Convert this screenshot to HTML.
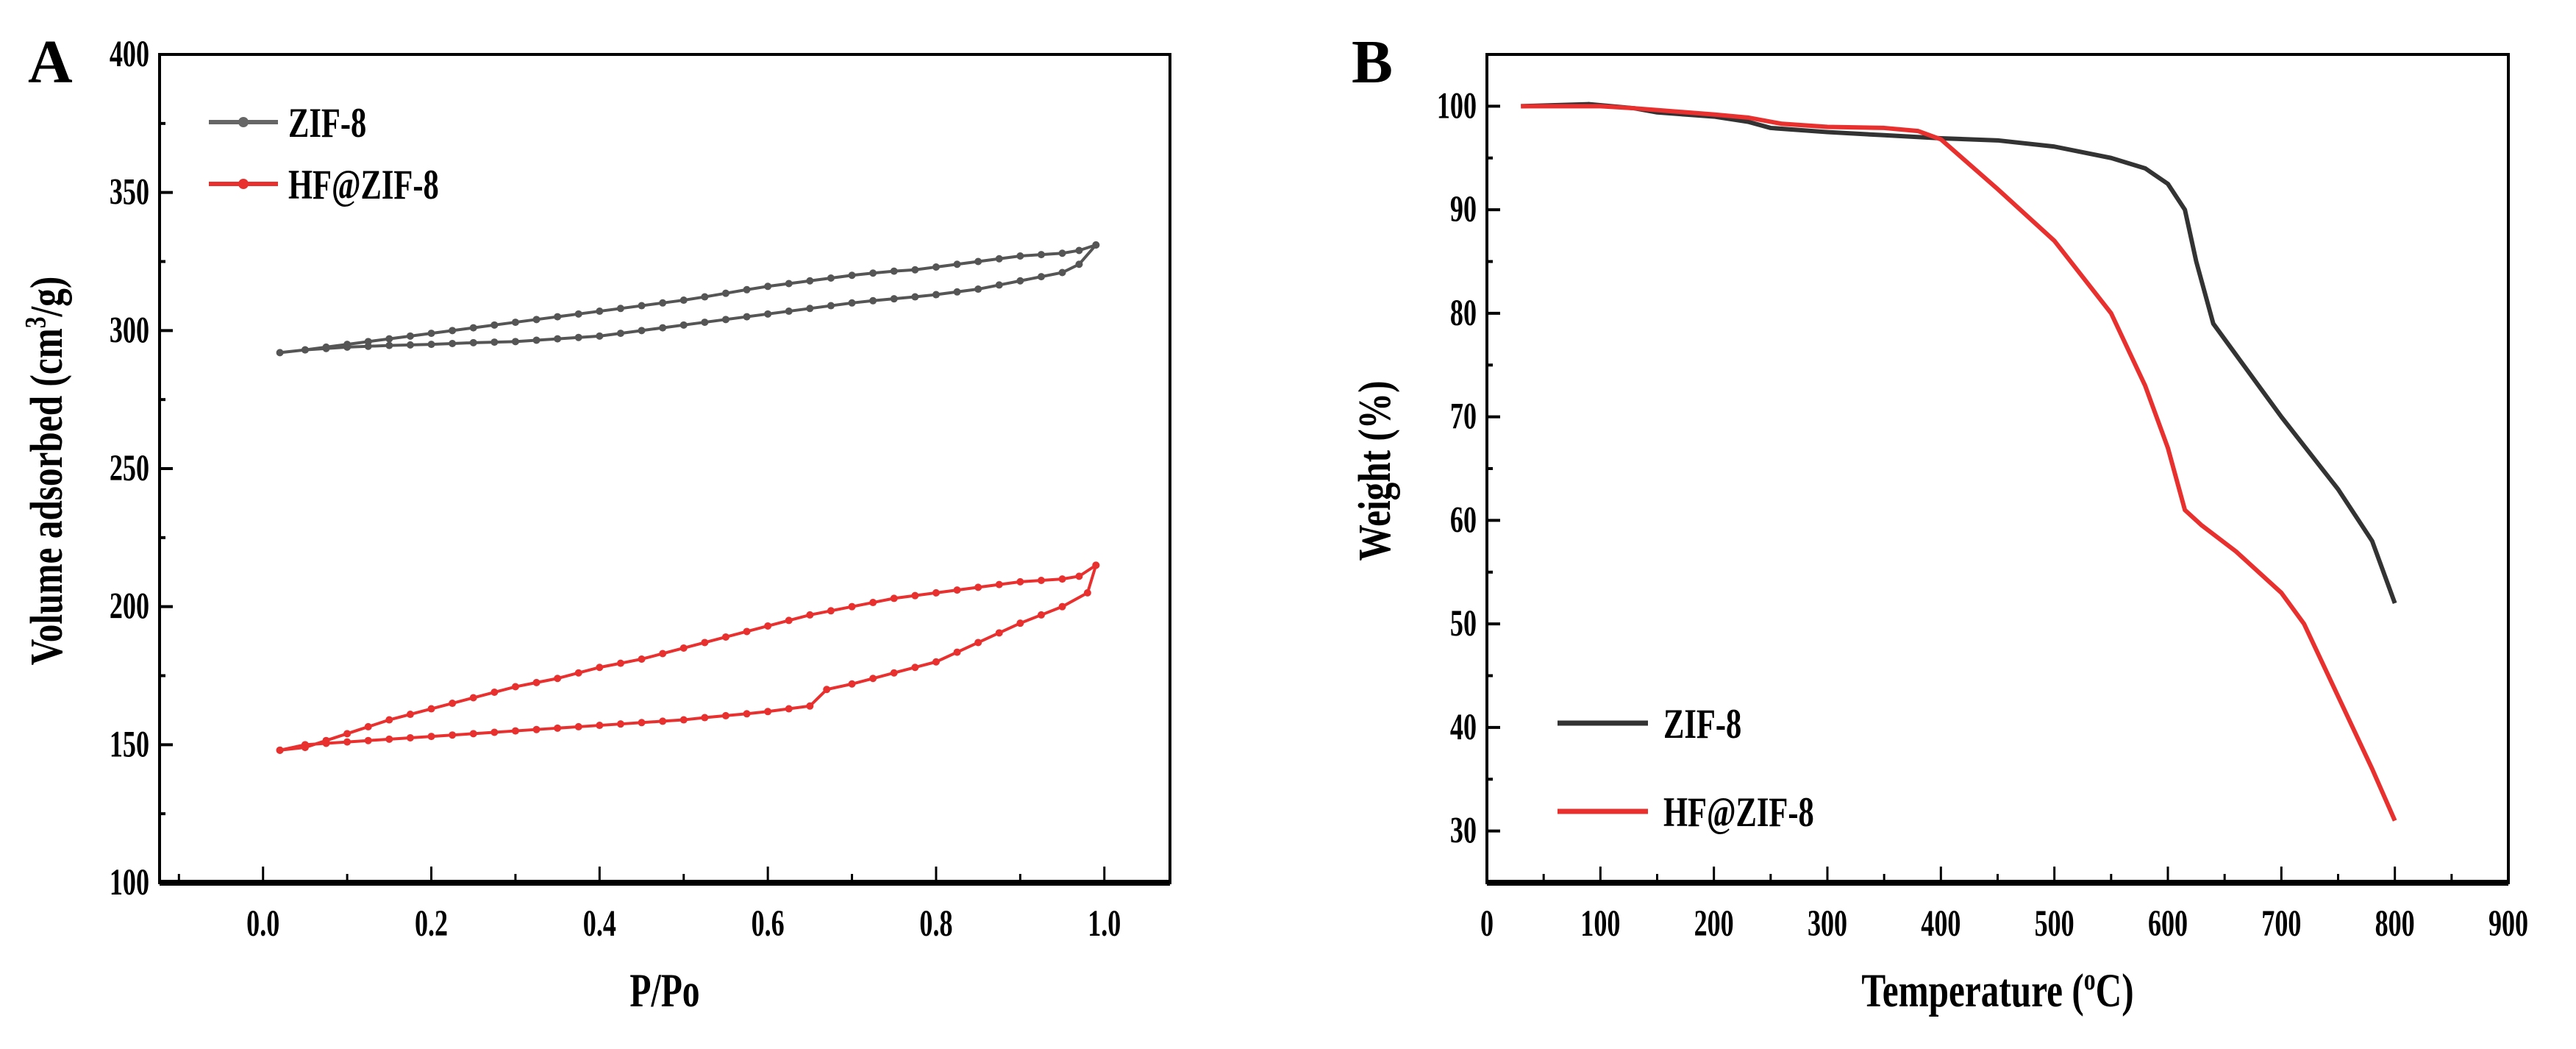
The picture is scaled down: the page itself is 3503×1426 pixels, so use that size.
<!DOCTYPE html>
<html><head><meta charset="utf-8"><style>
html,body{margin:0;padding:0;background:#fff;}
svg{display:block;font-family:"Liberation Serif",serif;font-weight:bold;}
</style></head><body>
<svg id="fig" width="3503" height="1426" viewBox="0 0 3503 1426" xmlns="http://www.w3.org/2000/svg">
<rect width="3503" height="1426" fill="#fff"/>
<g id="A"></g>
<g id="B"></g>
</svg>
<script>
// Panel A data (P/Po vs volume adsorbed)
const aZifAdsX = [0.02,0.05,0.075,0.1,0.125,0.15,0.175,0.2,0.225,0.25,0.275,0.3,0.325,0.35,0.375,0.4,0.425,0.45,0.475,0.5,0.525,0.55,0.575,0.6,0.625,0.65,0.675,0.7,0.725,0.75,0.775,0.8,0.825,0.85,0.875,0.9,0.925,0.95,0.97,0.99];
const aZifAdsY = [292,293,293.5,294,294.3,294.6,294.8,295,295.3,295.6,295.8,296,296.5,297,297.5,298,299,300,301,302,303,304,305,306,307,308,309,310,310.8,311.5,312.2,313,314,315,316.5,318,319.5,321,324,331];
const aZifDesX = [0.99,0.97,0.95,0.925,0.9,0.875,0.85,0.825,0.8,0.775,0.75,0.725,0.7,0.675,0.65,0.625,0.6,0.575,0.55,0.525,0.5,0.475,0.45,0.425,0.4,0.375,0.35,0.325,0.3,0.275,0.25,0.225,0.2,0.175,0.15,0.125,0.1,0.075,0.05];
const aZifDesY = [331,329,328,327.5,327,326,325,324,323,322,321.5,320.8,320,319,318,317,316,314.8,313.5,312.2,311,310,309,308,307,306,305,304,303,302,301,300,299,298,297,296,295,294,293];
const aHfAdsX = [0.02,0.05,0.075,0.1,0.125,0.15,0.175,0.2,0.225,0.25,0.275,0.3,0.325,0.35,0.375,0.4,0.425,0.45,0.475,0.5,0.525,0.55,0.575,0.6,0.625,0.65,0.67,0.7,0.725,0.75,0.775,0.8,0.825,0.85,0.875,0.9,0.925,0.95,0.98,0.99];
const aHfAdsY = [148,150,150.5,151,151.5,152,152.5,153,153.5,154,154.5,155,155.5,156,156.5,157,157.5,158,158.5,159,159.8,160.5,161.2,162,163,164,170,172,174,176,178,180,183.5,187,190.5,194,197,200,205,215];
const aHfDesX = [0.99,0.97,0.95,0.925,0.9,0.875,0.85,0.825,0.8,0.775,0.75,0.725,0.7,0.675,0.65,0.625,0.6,0.575,0.55,0.525,0.5,0.475,0.45,0.425,0.4,0.375,0.35,0.325,0.3,0.275,0.25,0.225,0.2,0.175,0.15,0.125,0.1,0.075,0.05,0.02];
const aHfDesY = [215,211,210,209.5,209,208,207,206,205,204,203,201.5,200,198.5,197,195,193,191,189,187,185,183,181,179.5,178,176,174,172.5,171,169,167,165,163,161,159,156.5,154,151.5,149,148];
const aXTicks = [0.0,0.2,0.4,0.6,0.8,1.0];
const aXTickLabels = ["0.0","0.2","0.4","0.6","0.8","1.0"];
const aYTicks = [100,150,200,250,300,350,400];
// Panel B data (TGA)
const bZifX = [30,90,130,150,200,230,250,300,350,400,450,500,550,580,600,615,625,640,660,700,750,780,800];
const bZifY = [100,100.2,99.8,99.4,99,98.5,97.9,97.5,97.2,96.9,96.7,96.1,95,94,92.5,90,85,79,76,70,63,58,52];
const bHfX = [30,100,130,200,230,260,300,350,380,400,450,500,550,580,600,615,630,660,700,720,750,780,800];
const bHfY = [100,100,99.8,99.2,98.9,98.3,98,97.9,97.6,96.8,92,87,80,73,67,61,59.5,57,53,50,43,36,31];
const bXTicks = [0,100,200,300,400,500,600,700,800,900];
const bYTicks = [30,40,50,60,70,80,90,100];

const NS="http://www.w3.org/2000/svg";
function mk(parent,tag,attrs,txt){const e=document.createElementNS(NS,tag);for(const k in attrs)e.setAttribute(k,attrs[k]);if(txt!==undefined)e.textContent=txt;parent.appendChild(e);return e;}
function txt(parent,x,y,size,anchor,content,sx,sy,rot){
 const t='translate('+x+','+y+')'+(rot?' rotate('+rot+')':'')+' scale('+sx+','+sy+')';
 return mk(parent,'text',{x:0,y:0,'font-size':size,'text-anchor':anchor,transform:t},content);
}
function lin(d0,d1,r0,r1){return v=>r0+(v-d0)*(r1-r0)/(d1-d0);}

// ---------- Panel A ----------
const gA=document.getElementById('A');
const AL=217,AR=1591,AT=74,AB=1200;
const ax=lin(-0.123,1.078,AL,AR), ay=lin(100,400,AB,AT);
let e;
e=txt(gA,38,112,84,'start','A',1,1);

e=mk(gA,'rect',{x:AL,y:AT,width:AR-AL,height:AB-AT,fill:'none',stroke:'#000','stroke-width':4});

e=mk(gA,'line',{x1:AL,y1:AB,x2:AR,y2:AB,stroke:'#000','stroke-width':8});
for(let v=-0.1;v<=1.05;v+=0.1){const x=ax(v);const major=Math.abs(Math.round(v*10)%2)===0;
 e=mk(gA,'line',{x1:x,y1:AB,x2:x,y2:AB-(major?22:12),stroke:'#000','stroke-width':3});
 }
aXTicks.forEach((v,i)=>{e=txt(gA,ax(v),AB+72,44,'middle',aXTickLabels[i],0.82,1.15);
 });
for(let v=100;v<=400;v+=25){const y=ay(v);const major=v%50===0;
 e=mk(gA,'line',{x1:AL,y1:y,x2:AL+(major?18:8),y2:y,stroke:'#000','stroke-width':4});
 }
aYTicks.forEach(v=>{e=txt(gA,AL-14,ay(v)+16,44,'end',String(v),0.82,1.15);
 });
e=txt(gA,(AL+AR)/2,1368,56,'middle','P/Po',0.85,1.15);

e=txt(gA,84,640,56,'middle','',0.88,1.12,-90);

e.innerHTML='Volume adsorbed (cm<tspan dy="-20" font-size="36">3</tspan><tspan dy="20">/g)</tspan>';
function seriesA(xs,ys,color,name){
 const pts=xs.map((x,i)=>ax(x)+','+ay(ys[i])).join(' ');
 e=mk(gA,'polyline',{points:pts,fill:'none',stroke:color,'stroke-width':4});
 
 xs.forEach((x,i)=>{e=mk(gA,'circle',{cx:ax(x),cy:ay(ys[i]),r:5,fill:color});
  });
}
seriesA(aZifAdsX,aZifAdsY,'#555','zif8-adsorption');
seriesA(aZifDesX,aZifDesY,'#555','zif8-desorption');
seriesA(aHfAdsX,aHfAdsY,'#e8302f','hf-zif8-adsorption');
seriesA(aHfDesX,aHfDesY,'#e8302f','hf-zif8-desorption');
[['ZIF-8','#666',166],['HF@ZIF-8','#e8302f',250]].forEach(([t,c,y])=>{
 e=mk(gA,'line',{x1:284,y1:y,x2:378,y2:y,stroke:c,'stroke-width':6});
 
 e=mk(gA,'circle',{cx:331,cy:y,r:7,fill:c});
 
 e=txt(gA,392,y+20,50,'start',t,0.85,1.15);
 
});

// ---------- Panel B ----------
const gB=document.getElementById('B');
const BL=2022,BR=3411,BT=74,BB=1200;
const bx=lin(0,900,BL,BR), by=lin(25,105,BB,BT);
e=txt(gB,1838,112,84,'start','B',1,1);

e=mk(gB,'rect',{x:BL,y:BT,width:BR-BL,height:BB-BT,fill:'none',stroke:'#000','stroke-width':4});

e=mk(gB,'line',{x1:BL,y1:BB,x2:BR,y2:BB,stroke:'#000','stroke-width':8});
for(let v=0;v<=900;v+=50){const x=bx(v);const major=v%100===0;
 e=mk(gB,'line',{x1:x,y1:BB,x2:x,y2:BB-(major?22:12),stroke:'#000','stroke-width':3});
 }
bXTicks.forEach(v=>{e=txt(gB,bx(v),BB+72,44,'middle',String(v),0.82,1.15);
 });
for(let v=30;v<=100;v+=5){const y=by(v);const major=v%10===0;
 e=mk(gB,'line',{x1:BL,y1:y,x2:BL+(major?18:8),y2:y,stroke:'#000','stroke-width':4});
 }
bYTicks.forEach(v=>{e=txt(gB,BL-14,by(v)+16,44,'end',String(v),0.82,1.15);
 });
e=txt(gB,(BL+BR)/2,1368,56,'middle','',0.88,1.15);

e.innerHTML='Temperature (<tspan dy="-20" font-size="36">o</tspan><tspan dy="20">C)</tspan>';
e=txt(gB,1890,640,56,'middle','Weight (%)',0.88,1.12,-90);

function seriesB(xs,ys,color,name){
 const pts=xs.map((x,i)=>bx(x)+','+by(ys[i])).join(' ');
 e=mk(gB,'polyline',{points:pts,fill:'none',stroke:color,'stroke-width':6,'stroke-linejoin':'round'});
 
}
seriesB(bZifX,bZifY,'#333','zif8-tga-line');
seriesB(bHfX,bHfY,'#e8302f','hf-zif8-tga-line');
[['ZIF-8','#333',983],['HF@ZIF-8','#e8302f',1103]].forEach(([t,c,y])=>{
 e=mk(gB,'line',{x1:2118,y1:y,x2:2241,y2:y,stroke:c,'stroke-width':7});
 
 e=txt(gB,2262,y+20,50,'start',t,0.85,1.15);
 
});
</script>
</body></html>
